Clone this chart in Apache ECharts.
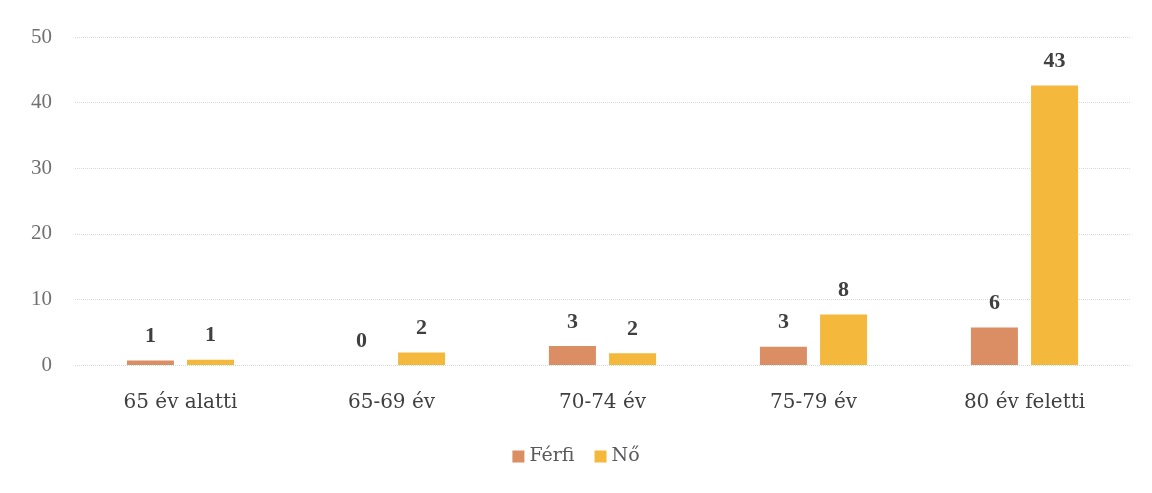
<!DOCTYPE html>
<html>
<head>
<meta charset="utf-8">
<script src="https://cdn.jsdelivr.net/npm/echarts@6/dist/echarts.min.js"></script>
<style>
  html, body { margin: 0; padding: 0; background: #fff; }
  #chart { width: 1152px; height: 493px; }
</style>
</head>
<body>
<div id="chart"></div>
<script>
var categories = ['65 év alatti', '65-69 év', '70-74 év', '75-79 év', '80 év feletti'];
var ferfi = [0.7, 0, 2.9, 2.8, 5.7];
var no = [0.8, 1.9, 1.8, 7.7, 42.6];
var yTicks = [0, 10, 20, 30, 40, 50];

var chart = echarts.init(document.getElementById('chart'));
var serif = "'Liberation Serif', serif";
var wide = "'DejaVu Serif', serif";

function barLabel() {
  return {
    show: true,
    position: 'top',
    distance: 13,
    fontFamily: serif,
    fontSize: 22,
    fontWeight: 'bold',
    color: '#404040',
    formatter: function (p) { return Math.round(p.value); }
  };
}

chart.setOption({
  backgroundColor: '#fff',
  color: ['#db8d64', '#f4b83c'],
  legend: {
    bottom: 22,
    left: 'center',
    itemWidth: 12,
    itemHeight: 12,
    itemGap: 20,
    icon: 'rect',
    textStyle: { fontFamily: wide, fontSize: 19, color: '#595959' },
    data: ['Férfi', 'Nő']
  },
  grid: { left: 75, right: 22, top: 37, bottom: 128 },
  xAxis: {
    type: 'category',
    data: categories,
    axisLine: { show: false },
    axisTick: { show: false },
    axisLabel: { fontFamily: wide, fontSize: 20, color: '#404040', margin: 28 }
  },
  yAxis: {
    type: 'value',
    min: yTicks[0],
    max: yTicks[yTicks.length - 1],
    interval: 10,
    axisLine: { show: false },
    axisTick: { show: false },
    axisLabel: { fontFamily: serif, fontSize: 21, color: '#707070', margin: 23 },
    splitLine: { lineStyle: { color: '#d9d9d9', type: 'dotted', width: 1 } }
  },
  series: [
    {
      name: 'Férfi',
      type: 'bar',
      data: ferfi,
      barWidth: 47,
      barGap: '28%',
      label: barLabel()
    },
    {
      name: 'Nő',
      type: 'bar',
      data: no,
      barWidth: 47,
      barGap: '28%',
      label: barLabel()
    }
  ]
});
</script>
</body>
</html>
